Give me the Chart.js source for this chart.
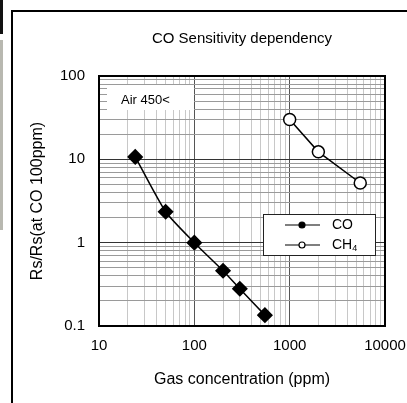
<!DOCTYPE html>
<html>
<head>
<meta charset="utf-8">
<script src="https://cdn.jsdelivr.net/npm/chart.js@4/dist/chart.umd.min.js"></script>
<style>
  html, body { margin: 0; padding: 0; background: #fff; }
  #box { position: relative; width: 407px; height: 403px; }
</style>
</head>
<body>
<div id="box"><canvas id="sens" width="407" height="403"></canvas></div>
<script>
// concentration (ppm) vs Rs/Rs(CO 100ppm)
var coPpm = [24, 50, 100, 200, 300, 550];
var coRatio = [10.7, 2.35, 1.0, 0.46, 0.28, 0.135];
var ch4Ppm = [1000, 2000, 5500];
var ch4Ratio = [30, 12.3, 5.2];

var xDecades = [10, 100, 1000, 10000];
var yDecades = [0.1, 1, 10, 100];

var FONT = '"Liberation Sans", Arial, sans-serif';

// 1..9 steps inside each decade, used for the grid
function logGrid(decades) {
  var out = [];
  for (var i = 0; i < decades.length - 1; i++) {
    for (var m = 1; m < 10; m++) {
      out.push(Number((decades[i] * m).toPrecision(3)));
    }
  }
  out.push(decades[decades.length - 1]);
  return out;
}

function toPoints(xs, ys) {
  var pts = [];
  for (var i = 0; i < xs.length; i++) pts.push({ x: xs[i], y: ys[i] });
  return pts;
}

var decor = {
  id: 'decor',
  beforeDraw: function (chart) {
    var c = chart.ctx;
    c.save();
    c.fillStyle = '#fff';
    c.fillRect(0, 0, chart.width, chart.height);
    // bits of the neighbouring panel on the left edge
    c.fillStyle = '#111';
    c.fillRect(0, 0, 3, 34);
    c.fillStyle = '#b8b8b0';
    c.fillRect(0, 40, 3, 190);
    // outer frame (left + top)
    c.strokeStyle = '#000';
    c.lineWidth = 2;
    c.beginPath();
    c.moveTo(12, chart.height);
    c.lineTo(12, 11);
    c.lineTo(chart.width, 11);
    c.stroke();
    c.restore();
  },
  beforeDatasetsDraw: function (chart) {
    var c = chart.ctx;
    var a = chart.chartArea;
    c.save();
    // condition note, sits on top of the grid
    c.fillStyle = '#fff';
    c.fillRect(a.left + 8, a.top + 9, 87, 25);
    c.fillStyle = '#000';
    c.font = '13px ' + FONT;
    c.textBaseline = 'middle';
    c.fillText('Air 450<', a.left + 22, a.top + 24);
    // plot frame
    c.strokeStyle = '#000';
    c.lineWidth = 2;
    c.strokeRect(a.left, a.top, a.right - a.left, a.bottom - a.top);
    c.restore();
  },
  afterDatasetsDraw: function (chart) {
    var c = chart.ctx;
    var a = chart.chartArea;
    var x0 = a.right - 122, y0 = a.bottom - 112, w = 112, h = 41;
    c.save();
    c.fillStyle = '#fff';
    c.fillRect(x0, y0, w, h);
    c.strokeStyle = '#222';
    c.lineWidth = 1;
    c.strokeRect(x0 + 0.5, y0 + 0.5, w, h);
    chart.data.datasets.forEach(function (ds, i) {
      var ly = y0 + 11 + i * 20;
      c.strokeStyle = '#000';
      c.lineWidth = 1.2;
      c.beginPath();
      c.moveTo(x0 + 22, ly);
      c.lineTo(x0 + 57, ly);
      c.stroke();
      c.beginPath();
      c.arc(x0 + 39, ly, 3, 0, Math.PI * 2);
      c.fillStyle = i === 0 ? '#000' : '#fff';
      c.fill();
      c.stroke();
      // label, trailing digits as subscript
      var m = ds.label.match(/^(\D+)(\d*)$/);
      c.fillStyle = '#000';
      c.font = '14px ' + FONT;
      c.textBaseline = 'middle';
      c.fillText(m[1], x0 + 69, ly);
      if (m[2]) {
        var tw = c.measureText(m[1]).width;
        c.font = '9px ' + FONT;
        c.fillText(m[2], x0 + 69 + tw, ly + 4);
      }
    });
    c.restore();
  }
};

var xGrid = logGrid(xDecades);
var yGrid = logGrid(yDecades);

new Chart(document.getElementById('sens'), {
  type: 'scatter',
  data: {
    datasets: [{
      label: 'CO',
      data: toPoints(coPpm, coRatio),
      showLine: true,
      borderColor: '#000',
      borderWidth: 1.5,
      tension: 0.2,
      pointStyle: 'rectRot',
      pointRadius: 7,
      pointBackgroundColor: '#000',
      pointBorderColor: '#000'
    }, {
      label: 'CH4',
      data: toPoints(ch4Ppm, ch4Ratio),
      showLine: true,
      borderColor: '#000',
      borderWidth: 1.5,
      pointStyle: 'circle',
      pointRadius: 6,
      pointBorderWidth: 1.5,
      pointBackgroundColor: '#fff',
      pointBorderColor: '#000'
    }]
  },
  options: {
    responsive: false,
    animation: false,
    layout: { padding: { left: 12, right: 22, top: 0, bottom: 0 } },
    plugins: {
      legend: { display: false },
      tooltip: { enabled: false },
      title: {
        display: true,
        fullSize: false,
        text: 'CO Sensitivity dependency',
        color: '#000',
        font: { family: FONT, size: 15, weight: 'normal' },
        padding: { top: 30, bottom: 28 }
      }
    },
    scales: {
      x: {
        type: 'logarithmic',
        min: 10,
        max: 10000,
        afterBuildTicks: function (s) { s.ticks = xGrid.map(function (v) { return { value: v }; }); },
        afterFit: function (s) {
          s.height = 77;
          // let "10000" hang past the plot edge
          s.paddingLeft = 0;
          s.paddingRight = 0;
        },
        ticks: {
          autoSkip: false,
          maxRotation: 0,
          padding: 11,
          color: '#000',
          font: { family: FONT, size: 15 },
          callback: function (v) { return xDecades.indexOf(v) >= 0 ? String(v) : ''; }
        },
        grid: {
          drawTicks: false,
          color: function (ctx) { return xDecades.indexOf(ctx.tick.value) >= 0 ? '#555' : '#c8c8c8'; },
          lineWidth: 1
        },
        border: { color: '#000', width: 2 },
        title: {
          display: true,
          text: 'Gas concentration (ppm)',
          color: '#000',
          font: { family: FONT, size: 16 },
          padding: { top: 0, bottom: 14 }
        }
      },
      y: {
        type: 'logarithmic',
        min: 0.1,
        max: 100,
        afterBuildTicks: function (s) { s.ticks = yGrid.map(function (v) { return { value: v }; }); },
        afterFit: function (s) { s.width = 87; },
        ticks: {
          autoSkip: false,
          padding: 14,
          color: '#000',
          font: { family: FONT, size: 15 },
          callback: function (v) { return yDecades.indexOf(v) >= 0 ? String(v) : ''; }
        },
        grid: {
          drawTicks: false,
          color: function (ctx) { return yDecades.indexOf(ctx.tick.value) >= 0 ? '#333' : '#9a9a9a'; },
          lineWidth: 1
        },
        border: { color: '#000', width: 2 },
        title: {
          display: true,
          text: 'Rs/Rs(at CO 100ppm)',
          color: '#000',
          font: { family: FONT, size: 16 },
          padding: { top: 16, bottom: 0 }
        }
      }
    }
  },
  plugins: [decor]
});
</script>
</body>
</html>
